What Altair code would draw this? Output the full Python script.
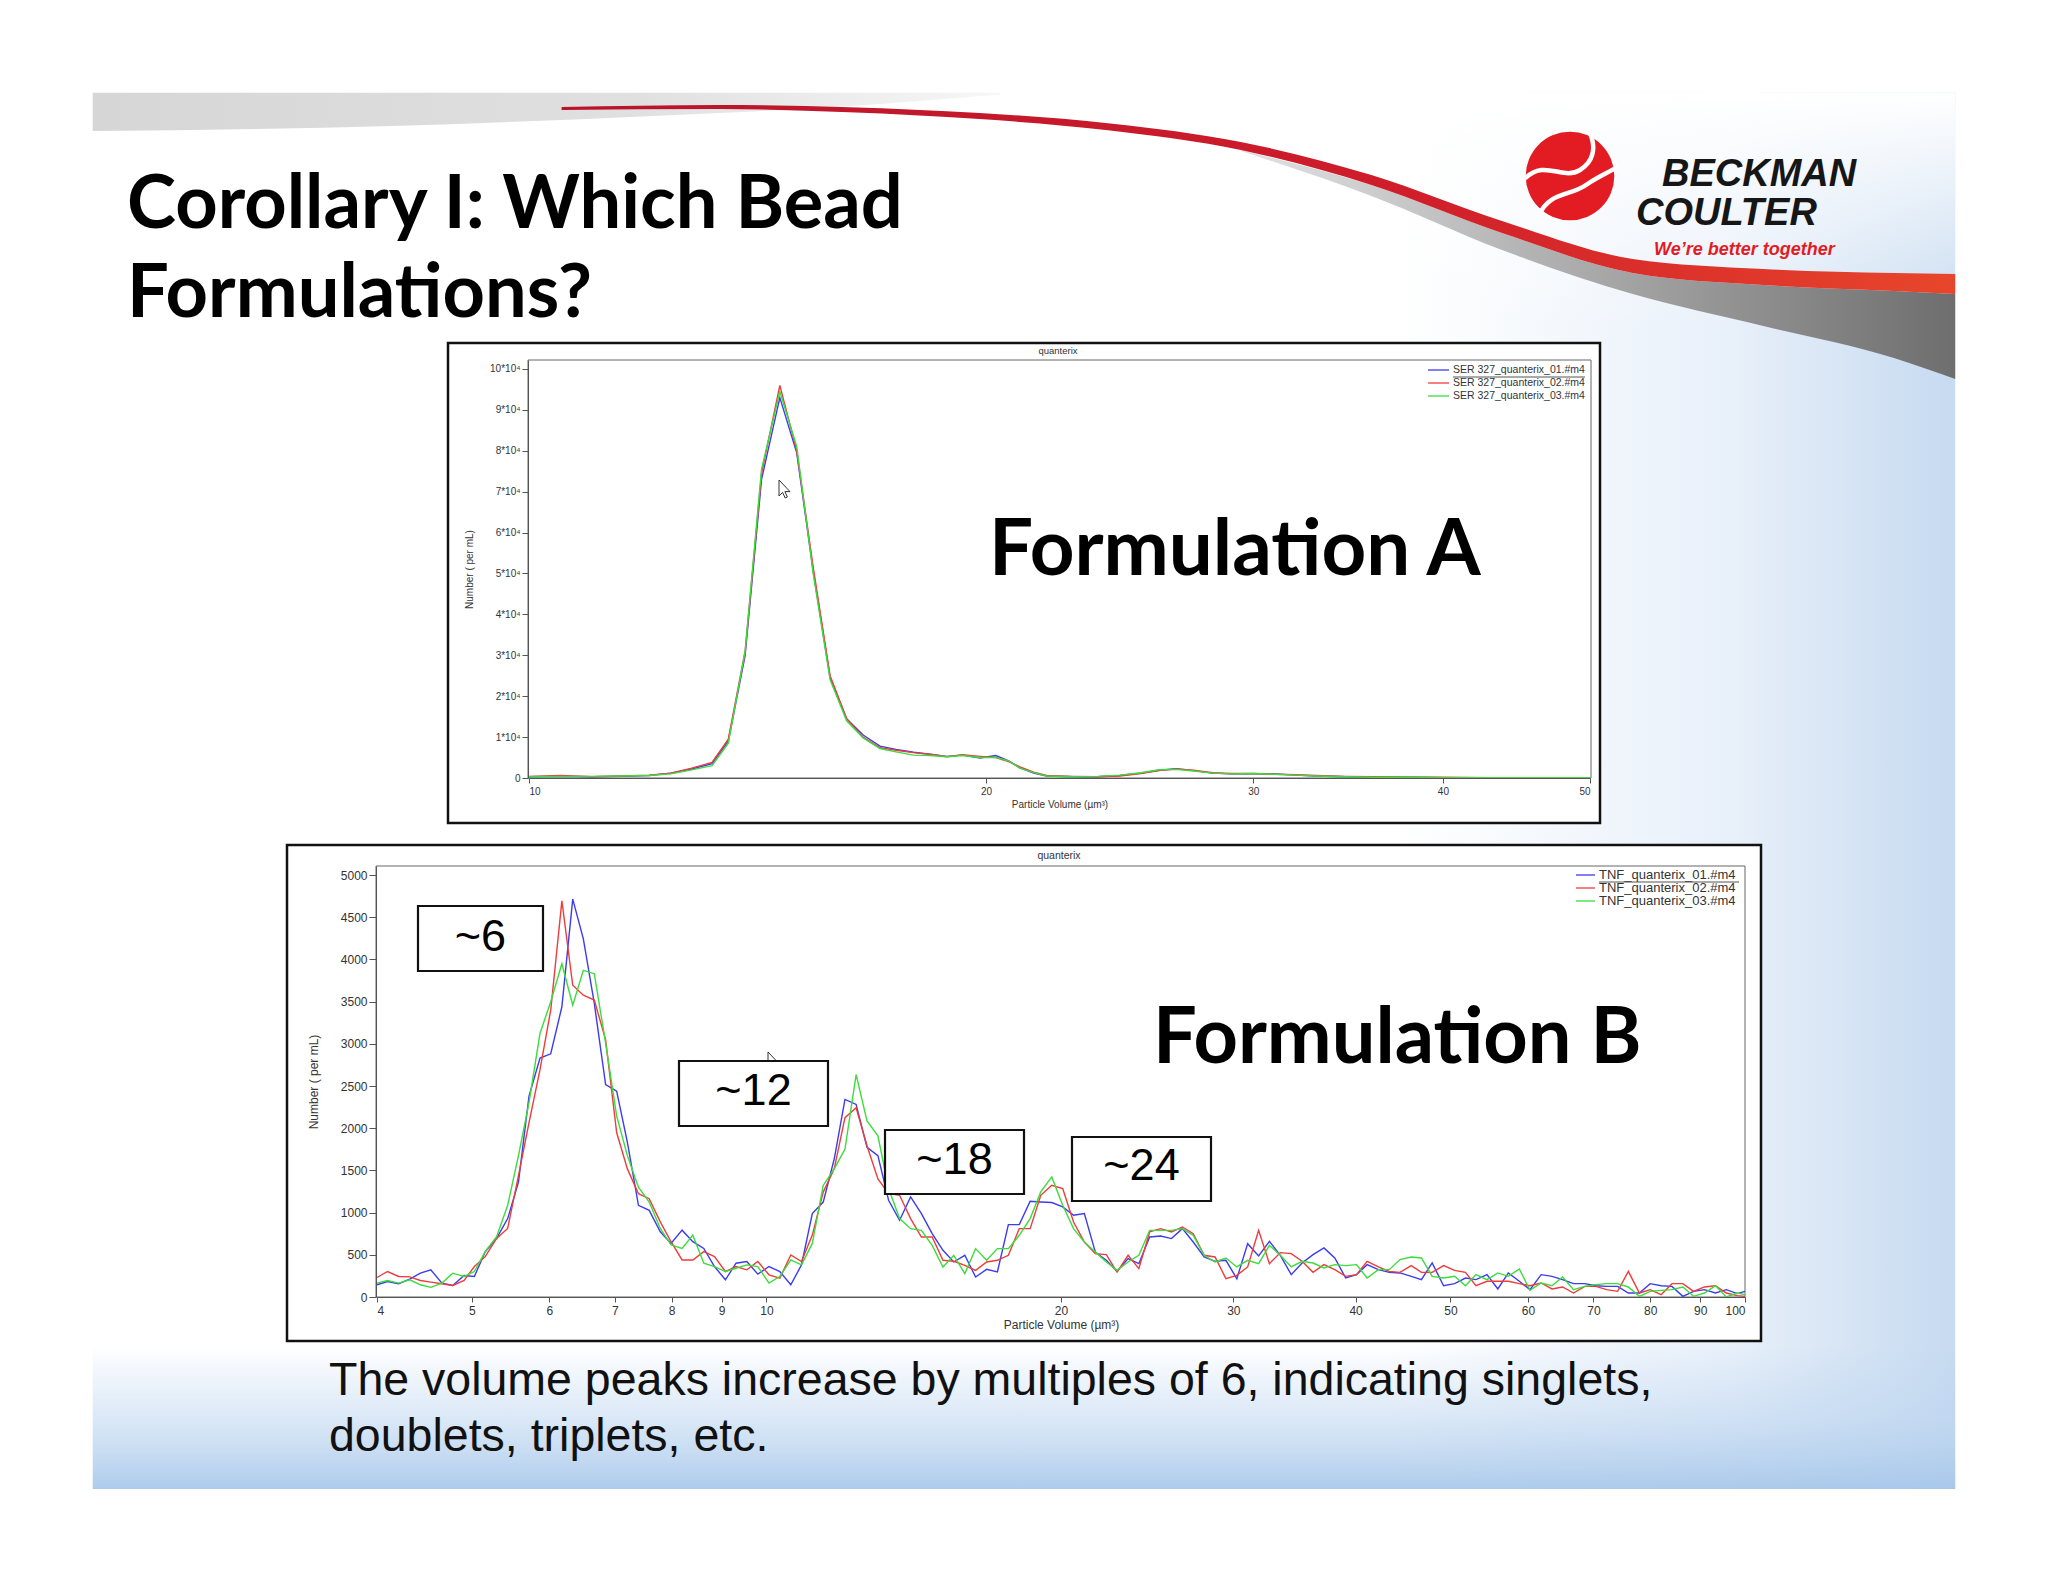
import altair as alt
import pandas as pd

# ================= canvas =================
W, H = 2032, 1566
M = 8  # page margin; all layout numbers below are page pixels

# ================= data: Formulation A (values in 10^4 per mL) =================
A_SERIES = ["SER 327_quanterix_01.#m4", "SER 327_quanterix_02.#m4", "SER 327_quanterix_03.#m4"]
A_X = [10.0, 10.5, 11.0, 11.5, 12.0, 12.4, 12.8, 13.2, 13.53, 13.88,
       14.23, 14.63, 15.01, 15.39, 15.79, 16.19, 16.6, 17.03, 17.45, 17.92,
       18.37, 18.85, 19.3, 19.82, 20.3, 20.7, 21.06, 21.5, 21.93, 22.8,
       23.7, 24.5, 25.3, 26.0, 26.7, 27.4, 28.2, 29.0, 30.0, 31.0,
       32.0, 33.0, 34.5, 36.0, 38.0, 40.0, 43.0, 46.0, 50.0]
A_01 = [.03, .04, .03, .04, .06, .12, .22, .35, .90, 3.0,
        7.3, 9.3, 7.95, 5.05, 2.45, 1.45, 1.05, .78, .70, .63,
        .58, .53, .56, .49, .55, .42, .25, .12, .05, .03,
        .03, .06, .12, .19, .23, .18, .12, .10, .10, .10,
        .07, .05, .03, .02, .02, .01, .01, .01, .01]
A_02 = [.04, .06, .03, .05, .07, .12, .24, .38, .95, 3.1,
        7.45, 9.6, 8.0, 5.15, 2.5, 1.45, 1.0, .74, .68, .62,
        .58, .52, .57, .53, .50, .40, .27, .14, .06, .04,
        .03, .05, .11, .18, .22, .19, .13, .11, .11, .09,
        .08, .06, .04, .03, .02, .02, .01, .01, .01]
A_03 = [.03, .04, .04, .05, .06, .10, .20, .30, .85, 3.1,
        7.55, 9.45, 8.1, 5.0, 2.4, 1.4, .98, .72, .64, .56,
        .55, .52, .55, .50, .50, .42, .24, .13, .05, .03,
        .04, .07, .13, .20, .21, .17, .12, .10, .11, .09,
        .07, .05, .03, .02, .02, .01, .01, .01, .01]
A_XTICKS = [10, 20, 30, 40, 50]
A_YTICKS = [0, 1, 2, 3, 4, 5, 6, 7, 8, 9, 10]

# ================= data: Formulation B (per mL) =================
B_SERIES = ["TNF_quanterix_01.#m4", "TNF_quanterix_02.#m4", "TNF_quanterix_03.#m4"]
B_X = [4.00, 4.10, 4.21, 4.32, 4.43, 4.54, 4.66, 4.78, 4.91, 5.03,
       5.16, 5.30, 5.44, 5.58, 5.72, 5.87, 6.02, 6.18, 6.34, 6.50,
       6.67, 6.85, 7.03, 7.21, 7.40, 7.59, 7.79, 7.99, 8.20, 8.41,
       8.63, 8.85, 9.08, 9.31, 9.55, 9.80, 10.06, 10.32, 10.59, 10.86,
       11.14, 11.43, 11.73, 12.03, 12.35, 12.67, 13.00, 13.33, 13.68, 14.04,
       14.40, 14.77, 15.15, 15.54, 15.95, 16.36, 16.79, 17.22, 17.67, 18.13,
       18.60, 19.07, 19.57, 20.08, 20.60, 21.13, 21.68, 22.25, 22.82, 23.42,
       24.02, 24.64, 25.28, 25.94, 26.61, 27.30, 28.01, 28.74, 29.48, 30.25,
       31.03, 31.84, 32.66, 33.51, 34.38, 35.27, 36.19, 37.13, 38.09, 39.08,
       40.09, 41.1, 42.2, 43.3, 44.4, 45.6, 46.7, 47.9, 49.2, 50.5,
       51.8, 53.1, 54.5, 55.9, 57.3, 58.8, 60.3, 61.9, 63.5, 65.1,
       66.8, 68.6, 70.4, 72.2, 74.1, 76.0, 78.0, 80.0, 82.1, 84.2,
       86.4, 88.6, 90.9, 93.3, 95.7, 98.2, 100.0]
B_01 = [145, 184, 157, 212, 282, 322, 165, 137, 255, 243,
        537, 694, 929, 1361, 2380, 2831, 2882, 3439, 4714, 4243,
        3478, 2518, 2439, 1831, 1086, 1027, 773, 635, 792, 655,
        576, 361, 204, 400, 420, 271, 361, 302, 145, 380,
        988, 1125, 1635, 2341, 2282, 1773, 1675, 1146, 909, 1186,
        988, 751, 553, 415, 494, 237, 328, 296, 858, 858,
        1134, 1126, 1119, 1067, 968, 988, 534, 435, 304, 455,
        395, 711, 723, 692, 810, 652, 474, 423, 435, 217,
        632, 486, 660, 494, 265, 403, 502, 581, 462, 225,
        265, 383, 324, 292, 285, 245, 206, 403, 134, 158,
        225, 206, 265, 95, 285, 186, 87, 265, 245, 206,
        158, 158, 134, 126, 126, 47, 47, 158, 134, 126,
        8, 67, 87, 47, 87, 40, 67]
B_02 = [231, 302, 243, 239, 196, 176, 157, 137, 196, 361,
        478, 694, 812, 1439, 2067, 2694, 3400, 4694, 3694, 3576,
        3518, 3047, 1949, 1518, 1224, 1165, 890, 655, 439, 439,
        537, 478, 302, 361, 322, 420, 263, 224, 498, 420,
        733, 1243, 1518, 2125, 2243, 1792, 1400, 1225, 1205, 929,
        711, 711, 435, 423, 375, 316, 415, 435, 494, 810,
        810, 1205, 1324, 1285, 889, 652, 514, 502, 296, 494,
        336, 771, 810, 771, 830, 751, 494, 474, 217, 257,
        356, 790, 395, 526, 514, 423, 292, 383, 324, 245,
        265, 423, 356, 304, 292, 372, 292, 292, 372, 316,
        292, 134, 186, 186, 186, 158, 134, 166, 95, 119,
        47, 126, 126, 87, 67, 304, 47, 87, 28, 158,
        158, 67, 119, 134, 47, 16, 8]
B_03 = [165, 196, 165, 204, 145, 114, 165, 282, 243, 302,
        537, 714, 1086, 1675, 2302, 3125, 3498, 3949, 3459, 3871,
        3831, 3008, 2145, 1675, 1302, 1125, 812, 616, 576, 733,
        400, 361, 302, 341, 380, 361, 165, 243, 439, 380,
        635, 1322, 1518, 1753, 2635, 2086, 1910, 1285, 930, 810,
        790, 612, 356, 494, 277, 573, 435, 573, 573, 731,
        929, 1245, 1423, 1087, 810, 652, 534, 415, 316, 415,
        494, 790, 790, 790, 810, 731, 494, 415, 462, 356,
        435, 395, 612, 494, 356, 423, 403, 344, 383, 372,
        383, 225, 324, 324, 443, 474, 462, 245, 225, 245,
        134, 265, 206, 285, 245, 332, 79, 166, 134, 237,
        87, 126, 146, 158, 158, 119, 8, 67, 79, 87,
        119, 8, 47, 134, 0, 47, 28]
B_XTICKS = [4, 5, 6, 7, 8, 9, 10, 20, 30, 40, 50, 60, 70, 80, 90, 100]
B_YTICKS = [0, 500, 1000, 1500, 2000, 2500, 3000, 3500, 4000, 4500, 5000]

PEAK_LABELS = ["~6", "~12", "~18", "~24"]
TITLE_LINES = ["Corollary I: Which Bead", "Formulations?"]
CAPTION_LINES = ["The volume peaks increase by multiples of 6, indicating singlets,",
                 "doublets, triplets, etc."]
PANEL_TITLE = "quanterix"
A_LABEL = "Formulation A"
B_LABEL = "Formulation B"
X_TITLE = "Particle Volume (µm³)"
Y_TITLE = "Number ( per mL)"
LOGO_TEXT = ["BECKMAN", "COULTER", "We’re better together"]

# ================= styles =================
SANS = "Liberation Sans"
HEAD = "Lato"
LINE_COLORS = ["#3b3bef", "#ee3b3b", "#3bdc3b"]
AXC = "#333333"
TICKC = "#555555"
LOGO_RED = "#e31b23"

# ================= layout (page pixels) =================
A_BOX = (448, 343, 1600, 823)
A_FRAME = (528, 360, 1591, 778)
A_XPX = (529, 1590)
A_YPX = (778, 360)
A_YMAX = 10.22
A_LEG = dict(x1=1428, x2=1449, tx=1453, rows=[370, 383, 396], size=10.5, under=(1453, 1585, 377))
B_BOX = (287, 845, 1761, 1341)
B_FRAME = (376, 866, 1745, 1297)
B_XPX = (377, 1745)
B_YPX = (1297, 866)
B_YMAX = 5107
B_LEG = dict(x1=1576, x2=1595, tx=1599, rows=[875, 888, 901], size=13, under=(1599, 1739, 882))
PEAK_BOXES = [(418, 906, 543, 971), (679, 1061, 828, 1126),
              (885, 1130, 1024, 1194), (1072, 1137, 1211, 1201)]
PEAK_TEXT_POS = [(480.5, 951), (753.5, 1105), (954.5, 1174), (1141.5, 1180)]
TITLE_POS = [(127, 228), (127, 317)]

# decoration geometry (page px)
SW_X = [561.6, 718.4, 849.0, 979.6, 1110.2, 1240.8, 1371.4, 1502.0, 1632.7, 1763.3, 1893.9, 1955.2]
SW_TOP = [107.0, 105.0, 107.2, 113.0, 123.5, 142.0, 175.0, 221.0, 259.0, 269.0, 273.0, 274.0]
SW_BOT = [110.0, 109.0, 112.2, 119.0, 130.5, 150.0, 185.0, 233.0, 273.0, 285.0, 291.0, 294.0]
GR_X = [1240.8, 1371.4, 1502.0, 1632.7, 1763.3, 1893.9, 1955.2]
GR_TOP = [150.0, 185.0, 233.0, 273.0, 285.0, 291.0, 294.0]
GR_BOT = [151.0, 196.0, 250.0, 294.0, 326.0, 358.0, 379.0]
BAND_X = [92.7, 391.8, 653.0, 850.0, 1000.0]
BAND_TOP = [92.7, 92.7, 92.7, 92.7, 92.7]
BAND_BOT = [131.0, 126.0, 116.0, 106.0, 94.5]
SLIDE = (92.7, 92.7, 1955.2, 1489.0)

SWIRL_1 = "M -0.9 0.05 C -0.5 -0.35 -0.15 0.1 0.2 -0.12 C 0.45 -0.28 0.55 -0.55 0.38 -0.9"
SWIRL_2 = "M -0.62 0.78 C -0.4 0.3 0.0 0.42 0.35 0.16 C 0.58 0.0 0.8 -0.08 0.97 -0.2"
CURSOR = "M0,0 L0,16 L3.6,12.4 L6.2,18 L8.4,17 L5.9,11.6 L11,11.6 Z"


def P(v):
    return v - M


one = pd.DataFrame({"k": [0]})


def grad(stops, x1=0, y1=0, x2=1, y2=0):
    return alt.LinearGradient(gradient="linear",
                              stops=[alt.GradientStop(color=c, offset=o) for o, c in stops],
                              x1=x1, y1=y1, x2=x2, y2=y2)


def box(b, **kw):
    x1, y1, x2, y2 = b
    return alt.Chart(one).mark_rect(**kw).encode(
        x=alt.value(P(x1)), x2=alt.value(P(x2)), y=alt.value(P(y1)), y2=alt.value(P(y2)))


def label(txt, x, y, **kw):
    return alt.Chart(pd.DataFrame({"t": [txt]})).mark_text(**kw).encode(
        x=alt.value(P(x)), y=alt.value(P(y)), text="t:N")


def hline(x1, x2, y, **kw):
    return alt.Chart(one).mark_rule(**kw).encode(
        x=alt.value(P(x1)), x2=alt.value(P(x2)), y=alt.value(P(y)))


def symbol(shape, x, y, size, **kw):
    return alt.Chart(one).mark_point(shape=shape, size=size, opacity=1, **kw).encode(
        x=alt.value(P(x)), y=alt.value(P(y)))


def legend_layers(names, spec):
    out = []
    for name, col, ry in zip(names, LINE_COLORS, spec["rows"]):
        out.append(hline(spec["x1"], spec["x2"], ry, color=col, strokeWidth=1.3))
        out.append(label(name, spec["tx"], ry, font=SANS, fontSize=spec["size"], color=AXC,
                         align="left", baseline="middle"))
    ux1, ux2, uy = spec["under"]
    out.append(hline(ux1, ux2, uy, color="#555555", strokeWidth=1))
    return out


DX = alt.Scale(domain=[M, W + M], range=[0, W], nice=False, zero=False)
DY = alt.Scale(domain=[M, H + M], range=[0, H], nice=False, zero=False)


def deco_area(xs, tops, bots, fill):
    df = pd.DataFrame({"x": xs, "top": tops, "bot": bots})
    return alt.Chart(df).mark_area(fill=fill, interpolate="monotone", strokeWidth=0).encode(
        x=alt.X("x:Q", scale=DX, axis=None),
        y=alt.Y("top:Q", scale=DY, axis=None),
        y2="bot:Q")


def long_df(xs, names, series):
    rows = []
    for name, ys in zip(names, series):
        for x, y in zip(xs, ys):
            rows.append({"x": x, "y": y, "series": name})
    return pd.DataFrame(rows)


# ================= slide decoration =================
slide_bg = box(SLIDE, fill=grad([(0, "#ffffff"), (0.70, "#ffffff"), (0.88, "#e8f0fa"), (1, "#c6daf0")]))
slide_top = box((SLIDE[0], SLIDE[1], SLIDE[2], 330),
                fill=grad([(0, "rgba(255,255,255,1)"), (1, "rgba(255,255,255,0)")], 0, 0, 0, 1))
bottom_band = box((SLIDE[0], 1345, SLIDE[2], SLIDE[3]),
                  fill=grad([(0, "rgba(190,214,240,0)"), (0.5, "rgba(190,214,240,0.55)"),
                             (1, "rgba(165,198,234,0.9)")], 0, 0, 0, 1))
gray_band = deco_area(BAND_X, BAND_TOP, BAND_BOT,
                      grad([(0, "#d6d6d6"), (0.6, "#e0e0e0"), (1, "#f7f7f7")]))
gray_under = deco_area(GR_X, GR_TOP, GR_BOT,
                       grad([(0, "#e2e2e2"), (0.5, "#a8a8a8"), (1, "#6e6e6e")]))
red_swoosh = deco_area(SW_X, SW_TOP, SW_BOT,
                       grad([(0, "#b8142c"), (0.6, "#cf1d2a"), (1, "#e8462c")]))

logo_circle = alt.Chart(one).mark_circle(size=7850, color=LOGO_RED, opacity=1).encode(
    x=alt.value(P(1570)), y=alt.value(P(176)))
swirl1 = symbol(SWIRL_1, 1570, 176, 10000, filled=False, stroke="white", strokeWidth=4.5)
swirl2 = symbol(SWIRL_2, 1570, 176, 10000, filled=False, stroke="white", strokeWidth=4.5)
logo_t1 = label(LOGO_TEXT[0], 1662, 186, font=SANS, fontWeight="bold", fontStyle="italic",
                fontSize=38, align="left", baseline="alphabetic", color="#161616")
logo_t2 = label(LOGO_TEXT[1], 1636, 225, font=SANS, fontWeight="bold", fontStyle="italic",
                fontSize=38, align="left", baseline="alphabetic", color="#161616")
logo_t3 = label(LOGO_TEXT[2], 1654, 255, font=SANS, fontWeight="bold", fontStyle="italic",
                fontSize=18, align="left", baseline="alphabetic", color=LOGO_RED)

title_layers = [label(t, tx, ty, font=HEAD, fontWeight="bold", fontSize=74,
                      align="left", baseline="alphabetic", color="#000000")
                for t, (tx, ty) in zip(TITLE_LINES, TITLE_POS)]

# ================= panel A =================
dfA = long_df(A_X, A_SERIES, [A_01, A_02, A_03])
a_lines = alt.Chart(dfA).mark_line(strokeWidth=1.4).encode(
    x=alt.X("x:Q",
            scale=alt.Scale(type="log", domain=[10, 50], range=[P(A_XPX[0]), P(A_XPX[1])], nice=False),
            axis=alt.Axis(orient="bottom", offset=P(A_FRAME[3]) - H, values=A_XTICKS, format="d",
                          labelFont=SANS, labelFontSize=10, labelColor=AXC, labelPadding=3,
                          labelAngle=0, labelOverlap=False, tickSize=5, tickColor=TICKC,
                          domainColor=TICKC, grid=False, zindex=2,
                          title=X_TITLE, titleFont=SANS, titleFontSize=10, titleFontWeight="normal",
                          titleColor=AXC, titlePadding=3)),
    y=alt.Y("y:Q",
            scale=alt.Scale(domain=[0, A_YMAX], range=[P(A_YPX[0]), P(A_YPX[1])], nice=False, zero=True),
            axis=alt.Axis(orient="left", offset=-P(A_FRAME[0]), values=A_YTICKS,
                          labelExpr="datum.value == 0 ? '0' : datum.value + '*10\u2074'",
                          labelFont=SANS, labelFontSize=10, labelColor=AXC, labelPadding=2,
                          tickSize=6, tickColor=TICKC, domainColor=TICKC, grid=False, zindex=2,
                          title=Y_TITLE, titleFont=SANS, titleFontSize=10, titleFontWeight="normal",
                          titleColor=AXC, titlePadding=15)),
    color=alt.Color("series:N", scale=alt.Scale(domain=A_SERIES, range=LINE_COLORS), legend=None),
)
a_box = box(A_BOX, fill="white", stroke="#111111", strokeWidth=2.5)
a_frame = box(A_FRAME, fillOpacity=0, stroke="#666666", strokeWidth=1)
a_title = label(PANEL_TITLE, 1058, 351, font=SANS, fontSize=9.5, color=AXC,
                align="center", baseline="middle")
a_form = label(A_LABEL, 989, 575, font=HEAD, fontWeight="bold", fontSize=78,
               align="left", baseline="alphabetic", color="#000000")
a_cursor = symbol(CURSOR, 779, 480, 4, filled=True, fill="white", stroke="#333333", strokeWidth=1)

# ================= panel B =================
dfB = long_df(B_X, B_SERIES, [B_01, B_02, B_03])
b_lines = alt.Chart(dfB).mark_line(strokeWidth=1.4).encode(
    x=alt.X("x:Q",
            scale=alt.Scale(type="log", domain=[4, 100], range=[P(B_XPX[0]), P(B_XPX[1])], nice=False),
            axis=alt.Axis(orient="bottom", offset=P(B_FRAME[3]) - H, values=B_XTICKS, format="d",
                          labelFont=SANS, labelFontSize=12, labelColor=AXC, labelPadding=3,
                          labelAngle=0, labelOverlap=False, tickSize=5, tickColor=TICKC,
                          domainColor=TICKC, grid=False, zindex=2,
                          title=X_TITLE, titleFont=SANS, titleFontSize=12, titleFontWeight="normal",
                          titleColor=AXC, titlePadding=3)),
    y=alt.Y("y:Q",
            scale=alt.Scale(domain=[0, B_YMAX], range=[P(B_YPX[0]), P(B_YPX[1])], nice=False, zero=True),
            axis=alt.Axis(orient="left", offset=-P(B_FRAME[0]), values=B_YTICKS, format="d",
                          labelFont=SANS, labelFontSize=12, labelColor=AXC, labelPadding=2,
                          tickSize=7, tickColor=TICKC, domainColor=TICKC, grid=False, zindex=2,
                          title=Y_TITLE, titleFont=SANS, titleFontSize=12, titleFontWeight="normal",
                          titleColor=AXC, titlePadding=20)),
    color=alt.Color("series:N", scale=alt.Scale(domain=B_SERIES, range=LINE_COLORS), legend=None),
)
b_box = box(B_BOX, fill="white", stroke="#111111", strokeWidth=2.5)
b_frame = box(B_FRAME, fillOpacity=0, stroke="#666666", strokeWidth=1)
b_title = label(PANEL_TITLE, 1059, 856, font=SANS, fontSize=10.5, color=AXC,
                align="center", baseline="middle")
b_form = label(B_LABEL, 1153, 1063, font=HEAD, fontWeight="bold", fontSize=77.5,
               align="left", baseline="alphabetic", color="#000000")
b_cursor = symbol(CURSOR, 768, 1052, 4, filled=True, fill="white", stroke="#333333", strokeWidth=1)

peak_layers = []
for pb in PEAK_BOXES:
    peak_layers.append(box(pb, fill="white", stroke="#111111", strokeWidth=2.2))
for txt, (tx, ty) in zip(PEAK_LABELS, PEAK_TEXT_POS):
    peak_layers.append(label(txt, tx, ty, font=SANS, fontSize=45, color="#000000",
                             align="center", baseline="alphabetic"))

caption1 = label(CAPTION_LINES[0], 329, 1395, font=SANS, fontSize=46.5, color="#111111",
                 align="left", baseline="alphabetic")
caption2 = label(CAPTION_LINES[1], 329, 1451, font=SANS, fontSize=46.5, color="#111111",
                 align="left", baseline="alphabetic")

layers = ([slide_bg, slide_top, bottom_band, gray_band, gray_under, red_swoosh,
           logo_circle, swirl1, swirl2, logo_t1, logo_t2, logo_t3]
          + title_layers
          + [a_box, a_frame, a_title, a_lines, a_form, a_cursor]
          + legend_layers(A_SERIES, A_LEG)
          + [b_box, b_frame, b_title, b_lines, b_form, b_cursor]
          + legend_layers(B_SERIES, B_LEG)
          + peak_layers + [caption1, caption2])

chart = alt.layer(*layers).resolve_scale(
    x="independent", y="independent", color="independent"
).resolve_axis(x="independent", y="independent").properties(
    width=W, height=H, autosize=alt.AutoSizeParams(type="none"), padding=0, background="white"
).configure_view(strokeWidth=0)

chart.save("out.html", embed_options={"renderer": "svg", "actions": False})
